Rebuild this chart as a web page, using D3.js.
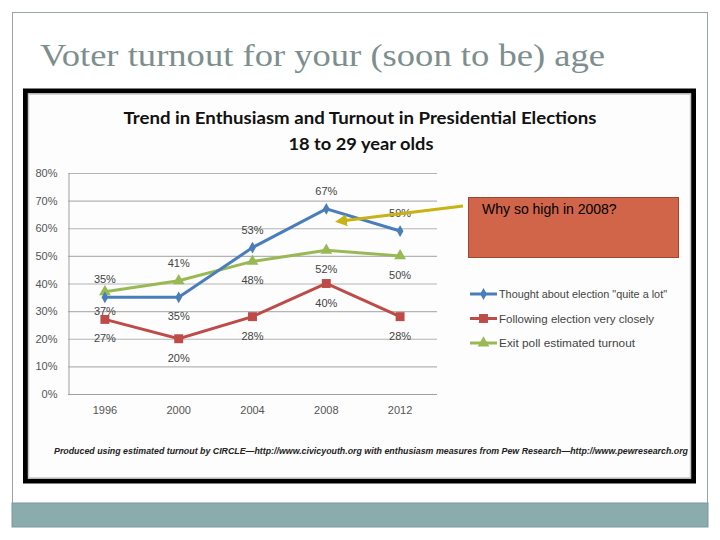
<!DOCTYPE html>
<html>
<head>
<meta charset="utf-8">
<script src="https://cdn.jsdelivr.net/npm/d3@7"></script>
<style>
  body { margin: 0; background: #fff; }
  svg { display: block; }
</style>
</head>
<body>
<svg width="720" height="540"></svg>
<script>
        // data
        var years = ["1996", "2000", "2004", "2008", "2012"];
        var thoughtLot = [35, 35, 53, 67, 59];
        var followClosely = [27, 20, 28, 40, 28];
        var exitPoll = [37, 41, 48, 52, 50];
        var yTicks = [0, 10, 20, 30, 40, 50, 60, 70, 80];
        var seriesNames = ['Thought about election "quite a lot"', "Following election very closely", "Exit poll estimated turnout"];
        // where each point label sits
        var thoughtLabelPos = ["above", "below", "above", "above", "above"];
        var followLabelPos = ["below", "below", "below", "below", "below"];
        var exitLabelPos = ["below", "above", "below", "below", "below"];

        var svg = d3.select("svg");

        // slide frame
        svg.append("rect")
          .attr("x", 12.5).attr("y", 12.5).attr("width", 695).attr("height", 514)
          .style("fill", "#fff").style("stroke", "#9aa5a5").style("stroke-width", 1);

        svg.append("rect")
          .attr("x", 12).attr("y", 503).attr("width", 696).attr("height", 24)
          .style("fill", "#8aacac").style("stroke", "#7d9a9a");

        // slide title
        svg.append("text")
          .attr("x", 40).attr("y", 66)
          .attr("textLength", 565).attr("lengthAdjust", "spacingAndGlyphs")
          .style("font-family", "Liberation Serif, serif")
          .style("font-size", "31px")
          .style("fill", "#7d8e8e")
          .text("Voter turnout for your (soon to be) age");

        // chart picture frame
        svg.append("rect")
          .attr("x", 25.5).attr("y", 91).attr("width", 668).attr("height", 390)
          .style("fill", "#fdfdfd").style("stroke", "#000").style("stroke-width", 5);
        svg.append("rect")
          .attr("x", 28.5).attr("y", 94).attr("width", 662).attr("height", 384)
          .style("fill", "none").style("stroke", "#c8c8c8").style("stroke-width", 1.5);

        // chart titles
        svg.append("text")
          .attr("x", 360).attr("y", 124)
          .attr("text-anchor", "middle")
          .attr("textLength", 473).attr("lengthAdjust", "spacingAndGlyphs")
          .style("font-family", "Lato, sans-serif").style("font-weight", "bold")
          .style("font-size", "17px").style("fill", "#111")
          .text("Trend in Enthusiasm  and Turnout in Presidential Elections");
        svg.append("text")
          .attr("x", 361).attr("y", 150)
          .attr("text-anchor", "middle")
          .attr("textLength", 145).attr("lengthAdjust", "spacingAndGlyphs")
          .style("font-family", "Lato, sans-serif").style("font-weight", "bold")
          .style("font-size", "17px").style("fill", "#111")
          .text("18 to 29 year olds");

        // scales
        var xScale = d3.scaleBand().domain(years).range([68, 437]),
            yScale = d3.scaleLinear().domain([0, 80]).range([394, 173]);
        var xc = function (y) { return xScale(y) + xScale.bandwidth() / 2; };

        var g = svg.append("g");

        // gridlines
        g.append("g").selectAll("line").data(yTicks).enter().append("line")
          .attr("x1", 68).attr("x2", 437)
          .attr("y1", function (d) { return yScale(d) + 0.5; })
          .attr("y2", function (d) { return yScale(d) + 0.5; })
          .style("stroke", function (d) { return d === 0 ? "#a0a0a0" : "#b4b4b4"; })
          .style("stroke-width", 1.2);

        // left axis
        var yAxis = g.append("g")
          .attr("transform", "translate(68.5,0)")
          .call(d3.axisLeft(yScale).tickValues(yTicks).tickSize(0).tickPadding(11)
                .tickFormat(function (d) { return d + "%"; }));
        yAxis.select(".domain").style("stroke", "#a0a0a0");
        yAxis.selectAll("text")
          .style("font-family", "Liberation Sans, sans-serif")
          .style("font-size", "11px").style("fill", "#555");

        var xAxis = g.append("g")
          .attr("transform", "translate(0,394)")
          .call(d3.axisBottom(xScale).tickSize(0).tickPadding(12));
        xAxis.select(".domain").remove();
        xAxis.selectAll("text")
          .style("font-family", "Liberation Sans, sans-serif")
          .style("font-size", "11px").style("fill", "#555");

        var series = [
          { name: seriesNames[0], values: thoughtLot, pos: thoughtLabelPos, color: "#4a7ebb", marker: d3.symbolDiamond, size: 40 },
          { name: seriesNames[1], values: followClosely, pos: followLabelPos, color: "#be4b48", marker: d3.symbolSquare, size: 80 },
          { name: seriesNames[2], values: exitPoll, pos: exitLabelPos, color: "#98b954", marker: d3.symbolTriangle, size: 60 }
        ];

        var line = d3.line()
          .x(function (d, i) { return xc(years[i]); })
          .y(function (d) { return yScale(d); });

        // draw order: green, red, blue on top
        [2, 1, 0].forEach(function (k) {
          var s = series[k];
          g.append("path")
            .datum(s.values)
            .attr("d", line)
            .style("fill", "none")
            .style("stroke", s.color)
            .style("stroke-width", 3);
          g.append("g").selectAll("path").data(s.values).enter().append("path")
            .attr("d", d3.symbol().type(s.marker).size(s.size))
            .attr("transform", function (d, i) { return "translate(" + xc(years[i]) + "," + yScale(d) + ")"; })
            .style("fill", s.color);
        });

        // point labels
        series.forEach(function (s) {
          g.append("g").selectAll("text").data(s.values).enter().append("text")
            .attr("x", function (d, i) { return xc(years[i]); })
            .attr("y", function (d, i) { return yScale(d) + (s.pos[i] === "above" ? -14 : 23); })
            .attr("text-anchor", "middle")
            .style("font-family", "Liberation Sans, sans-serif")
            .style("font-size", "11px").style("fill", "#444")
            .text(function (d) { return d + "%"; });
        });

        // legend
        var legend = svg.append("g");
        var legendWidths = [168, 155, 136];
        series.forEach(function (s, i) {
          var ly = 294 + i * 24.5;
          legend.append("line")
            .attr("x1", 470).attr("x2", 497).attr("y1", ly).attr("y2", ly)
            .style("stroke", s.color).style("stroke-width", 3);
          legend.append("path")
            .attr("d", d3.symbol().type(s.marker).size(s.size))
            .attr("transform", "translate(483.5," + ly + ")")
            .style("fill", s.color);
          legend.append("text")
            .attr("x", 499).attr("y", ly + 4)
            .attr("textLength", legendWidths[i]).attr("lengthAdjust", "spacingAndGlyphs")
            .style("font-family", "Liberation Sans, sans-serif")
            .style("font-size", "11.5px").style("fill", "#444")
            .text(s.name);
        });

        // callout box
        svg.append("rect")
          .attr("x", 468.5).attr("y", 197.5).attr("width", 210).attr("height", 60)
          .style("fill", "#d0654a").style("stroke", "#a0452e").style("stroke-width", 1);
        svg.append("text")
          .attr("x", 482).attr("y", 214)
          .style("font-family", "Liberation Sans, Arial, sans-serif")
          .style("font-size", "14px").style("fill", "#000")
          .text("Why so high in 2008?");

        // arrow pointing at 2008
        svg.append("defs").append("marker")
          .attr("id", "head").attr("viewBox", "0 0 10 10")
          .attr("refX", 5).attr("refY", 5)
          .attr("markerWidth", 4).attr("markerHeight", 4)
          .attr("orient", "auto-start-reverse")
          .append("path").attr("d", "M0,0 L10,5 L0,10 z").style("fill", "#c8b214");
        svg.append("line")
          .attr("x1", 463).attr("y1", 206).attr("x2", 341).attr("y2", 221)
          .attr("marker-end", "url(#head)")
          .style("stroke", "#c8b214").style("stroke-width", 3);

        // source note
        svg.append("text")
          .attr("x", 54).attr("y", 454)
          .attr("textLength", 634).attr("lengthAdjust", "spacingAndGlyphs")
          .style("font-family", "Liberation Sans, sans-serif")
          .style("font-size", "8.5px").style("font-style", "italic").style("font-weight", "bold")
          .style("fill", "#222")
          .text("Produced using estimated turnout by CIRCLE\u2014http://www.civicyouth.org with enthusiasm measures from  Pew Research\u2014http://www.pewresearch.org");
</script>
</body>
</html>
